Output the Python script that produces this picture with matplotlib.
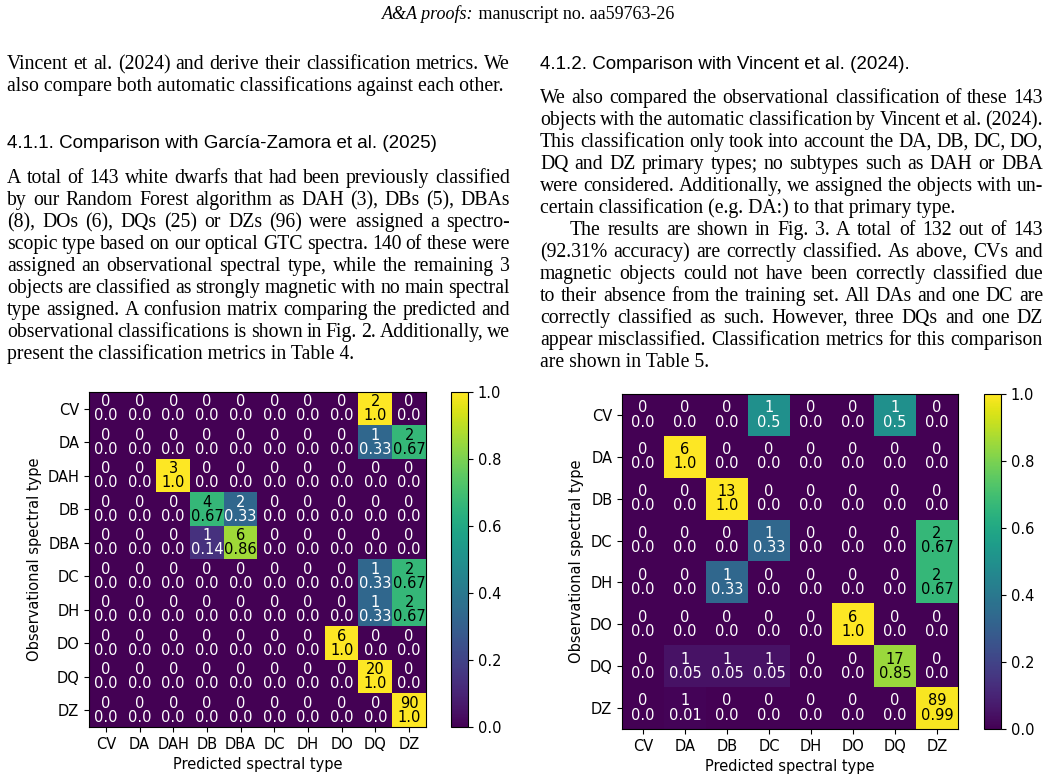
import numpy as np
import matplotlib
matplotlib.use("Agg")
import matplotlib.pyplot as plt

plt.rcParams["font.size"] = 10.5

# ---- data ----
clases_izq = ["CV", "DA", "DAH", "DB", "DBA", "DC", "DH", "DO", "DQ", "DZ"]
cuentas_izq = np.array([
    [0, 0, 0, 0, 0, 0, 0, 0, 2, 0],
    [0, 0, 0, 0, 0, 0, 0, 0, 1, 2],
    [0, 0, 3, 0, 0, 0, 0, 0, 0, 0],
    [0, 0, 0, 4, 2, 0, 0, 0, 0, 0],
    [0, 0, 0, 1, 6, 0, 0, 0, 0, 0],
    [0, 0, 0, 0, 0, 0, 0, 0, 1, 2],
    [0, 0, 0, 0, 0, 0, 0, 0, 1, 2],
    [0, 0, 0, 0, 0, 0, 0, 6, 0, 0],
    [0, 0, 0, 0, 0, 0, 0, 0, 20, 0],
    [0, 0, 0, 0, 0, 0, 0, 0, 0, 90],
])

clases_der = ["CV", "DA", "DB", "DC", "DH", "DO", "DQ", "DZ"]
cuentas_der = np.array([
    [0, 0, 0, 1, 0, 0, 1, 0],
    [0, 6, 0, 0, 0, 0, 0, 0],
    [0, 0, 13, 0, 0, 0, 0, 0],
    [0, 0, 0, 1, 0, 0, 0, 2],
    [0, 0, 1, 0, 0, 0, 0, 2],
    [0, 0, 0, 0, 0, 6, 0, 0],
    [0, 1, 1, 1, 0, 0, 17, 0],
    [0, 1, 0, 0, 0, 0, 0, 89],
])

cabecera = ("A&A proofs:", " manuscript no. aa59763-26")

col_izq = [
    ("Vincent et al. (2024) and derive their classification metrics. We", 63, "j"),
    ("also compare both automatic classifications against each other.", 85, "l"),
    ("4.1.1. Comparison with García-Zamora et al. (2025)", 142, "h"),
    ("A total of 143 white dwarfs that had been previously classified", 177, "j"),
    ("by our Random Forest algorithm as DAH (3), DBs (5), DBAs", 199, "j"),
    ("(8), DOs (6), DQs (25) or DZs (96) were assigned a spectro-", 221, "j"),
    ("scopic type based on our optical GTC spectra. 140 of these were", 243, "j"),
    ("assigned an observational spectral type, while the remaining 3", 265, "j"),
    ("objects are classified as strongly magnetic with no main spectral", 287, "j"),
    ("type assigned. A confusion matrix comparing the predicted and", 309, "j"),
    ("observational classifications is shown in Fig. 2. Additionally, we", 331, "j"),
    ("present the classification metrics in Table 4.", 353, "l"),
]

col_der = [
    ("4.1.2. Comparison with Vincent et al. (2024).", 63, "h"),
    ("We also compared the observational classification of these 143", 97, "j"),
    ("objects with the automatic classification by Vincent et al. (2024).", 119, "j"),
    ("This classification only took into account the DA, DB, DC, DO,", 141, "j"),
    ("DQ and DZ primary types; no subtypes such as DAH or DBA", 163, "j"),
    ("were considered. Additionally, we assigned the objects with un-", 185, "j"),
    ("certain classification (e.g. DA:) to that primary type.", 207, "l"),
    ("The results are shown in Fig. 3. A total of 132 out of 143", 229, "i"),
    ("(92.31% accuracy) are correctly classified. As above, CVs and", 251, "j"),
    ("magnetic objects could not have been correctly classified due", 273, "j"),
    ("to their absence from the training set. All DAs and one DC are", 295, "j"),
    ("correctly classified as such. However, three DQs and one DZ", 317, "j"),
    ("appear misclassified. Classification metrics for this comparison", 339, "j"),
    ("are shown in Table 5.", 361, "l"),
]

W, H = 1057, 784
fig = plt.figure(figsize=(W / 100, H / 100), dpi=100)
renderer = fig.canvas.get_renderer()

serif = dict(family="Liberation Serif", fontsize=14.2, color="black")
sans = dict(family="Liberation Sans", fontsize=13.5, color="black")


def escribir(txt, x0, x1, y, modo):
    yb = 1 - (y + 6) / H
    if modo == "h":
        fig.text(x0 / W, yb, txt, va="baseline", **sans)
        return
    if modo == "i":
        x0 = x0 + 30
    if modo == "l":
        fig.text(x0 / W, yb, txt, va="baseline", **serif)
        return
    # justified line: place words one by one
    palabras = txt.split()
    objs = [fig.text(0, yb, p, va="baseline", **serif) for p in palabras]
    anchos = [o.get_window_extent(renderer).width for o in objs]
    hueco = (x1 - x0 - sum(anchos)) / (len(palabras) - 1)
    x = x0
    for o, a in zip(objs, anchos):
        o.set_x(x / W)
        x += a + hueco


for txt, y, modo in col_izq:
    escribir(txt, 7, 510, y, modo)
for txt, y, modo in col_der:
    escribir(txt, 540, 1043, y, modo)

# header
t1 = fig.text(0, 1 - 19 / H, cabecera[0], va="baseline", family="Liberation Serif",
              style="italic", fontsize=13)
t2 = fig.text(0, 1 - 19 / H, cabecera[1], va="baseline", family="Liberation Serif",
              fontsize=13)
a1 = t1.get_window_extent(renderer).width
a2 = t2.get_window_extent(renderer).width
xi = 528 - (a1 + a2) / 2
t1.set_x(xi / W)
t2.set_x((xi + a1) / W)


def matriz(ax, cax, cuentas, clases):
    norm = cuentas / cuentas.sum(axis=1, keepdims=True)
    im = ax.imshow(norm, cmap="viridis", vmin=0, vmax=1, interpolation="nearest",
                   aspect="auto")
    n = len(clases)
    for i in range(n):
        for j in range(n):
            v = round(norm[i, j], 2)
            col = "black" if v > 0.5 else "white"
            ax.text(j, i, f"{cuentas[i, j]}\n{v}", ha="center", va="center",
                    color=col, fontsize=10.5, linespacing=0.93)
    ax.set_xticks(range(n))
    ax.set_xticklabels(clases)
    ax.set_yticks(range(n))
    ax.set_yticklabels(clases)
    ax.set_xlabel("Predicted spectral type")
    ax.set_ylabel("Observational spectral type")
    fig.colorbar(im, cax=cax, ticks=[0, 0.2, 0.4, 0.6, 0.8, 1.0])


def caja(x0, x1, y0, y1):
    return [x0 / W, 1 - y1 / H, (x1 - x0) / W, (y1 - y0) / H]


ax1 = fig.add_axes(caja(89, 426, 392, 727))
cax1 = fig.add_axes(caja(451, 468, 392, 727))
matriz(ax1, cax1, cuentas_izq, clases_izq)

ax2 = fig.add_axes(caja(622, 958, 394, 729))
cax2 = fig.add_axes(caja(984, 1001, 394, 729))
matriz(ax2, cax2, cuentas_der, clases_der)

fig.savefig("out.png", dpi=100)
